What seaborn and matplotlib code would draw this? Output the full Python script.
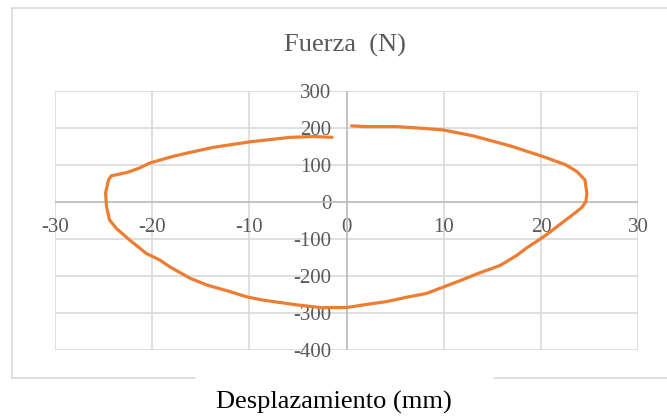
import matplotlib
matplotlib.use("Agg")
import matplotlib.pyplot as plt
from matplotlib.lines import Line2D
import seaborn as sns
import pandas as pd

# Hysteresis loop: displacement (mm) vs force (N), in drawing order
desplazamiento = [0.5, 2.0, 5.1, 8.0, 9.9, 13.0, 16.8, 20.2, 22.5, 23.7, 24.5, 24.7,
                  24.6, 24.2, 23.5, 22.5, 21.5, 20.5, 19.5, 18.5, 17.5, 15.8, 13.4,
                  12.0, 9.9, 8.2, 6.2, 4.1, 1.7, 0.0, -1.7, -2.4, -5.1, -8.6, -10.3,
                  -12.0, -14.4, -16.1, -18.2, -19.2, -20.6, -22.3, -23.7, -24.4,
                  -24.7, -24.8, -24.5, -24.2, -22.6, -21.4, -20.2, -17.8, -15.8,
                  -13.7, -9.9, -5.8, -3.4, -1.5]
fuerza = [205, 203, 203, 198, 194, 178, 151, 122, 100, 81, 59, 23,
          0, -15, -30, -50, -70, -90, -108, -125, -145, -172, -195,
          -210, -231, -248, -258, -270, -279, -286, -286, -287, -279, -266, -257,
          -243, -225, -207, -176, -158, -140, -104, -72, -49,
          -13, 23, 59, 70, 79, 90, 105, 123, 135,
          147, 162, 174, 176, 174]

x_ticks = [-30, -20, -10, 0, 10, 20, 30]
y_ticks = [-400, -300, -200, -100, 0, 100, 200, 300]

titulo = "Fuerza  (N)"
etiqueta_x = "Desplazamiento (mm)"

df = pd.DataFrame({"x": desplazamiento, "y": fuerza})

sns.set_style("white")
plt.rcParams["font.family"] = ["Liberation Serif", "DejaVu Serif"]

fig = plt.figure(figsize=(6.67, 4.17), dpi=100)
ax = fig.add_axes([55 / 667, 1 - 349.7 / 417, (638.4 - 55) / 667, (349.7 - 90.7) / 417])

ax.set_xlim(-30, 30)
ax.set_ylim(-400, 300)
ax.set_xticks(x_ticks)
ax.set_yticks(y_ticks)
ax.set_xticklabels([str(v) for v in x_ticks])
ax.set_yticklabels([str(v) for v in y_ticks])
ax.grid(True, color="#d9d9d9", linewidth=1.2, zorder=0)
ax.set_axisbelow(True)

for s in ax.spines.values():
    s.set_visible(False)
ax.spines["bottom"].set_position(("data", 0))
ax.spines["left"].set_position(("data", 0))

ax.axhline(0, color="#bfbfbf", linewidth=1.2, zorder=1)
ax.axvline(0, color="#bfbfbf", linewidth=1.2, zorder=1)

ax.tick_params(axis="x", length=0, pad=12, labelsize=15, labelcolor="#595959")
ax.tick_params(axis="y", length=0, pad=11, labelsize=15, labelcolor="#595959")

sns.lineplot(data=df, x="x", y="y", sort=False, estimator=None, ax=ax,
             color="#ED7D31", linewidth=2.3, zorder=3)
ax.set_xlabel("")
ax.set_ylabel("")

# Chart-area border with gap for the axis title
W, H = 667, 417
def fl(x0, y0, x1, y1):
    fig.add_artist(Line2D([x0 / W, x1 / W], [1 - y0 / H, 1 - y1 / H],
                          color="#d9d9d9", linewidth=1.2, transform=fig.transFigure))
fl(12, 8, 667, 8)
fl(12, 8, 12, 378)
fl(12, 378, 195, 378)
fl(494, 378, 667, 378)

fig.text(345 / W, 1 - 45 / H, titulo, ha="center", va="center",
         fontsize=19, color="#595959")
fig.text(334 / W, 1 - 402 / H, etiqueta_x, ha="center", va="center",
         fontsize=19, color="black")

fig.savefig("out.png", dpi=100)
